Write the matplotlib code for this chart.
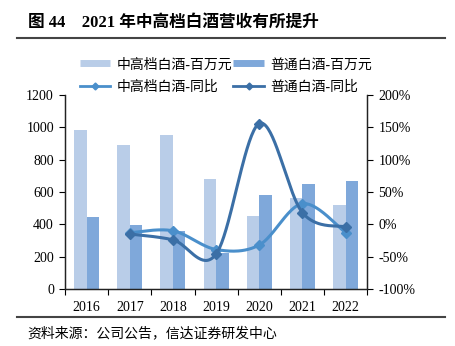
import numpy as np
import matplotlib.pyplot as plt
from matplotlib.lines import Line2D

plt.rcParams['font.family'] = ['Liberation Serif', 'Noto Sans CJK SC']
plt.rcParams['axes.unicode_minus'] = False

# ------------------------------------------------------------------
# Data
# ------------------------------------------------------------------
years = ['2016', '2017', '2018', '2019', '2020', '2021', '2022']
high_rev = [983, 891, 953, 680, 454, 565, 520]      # 中高档白酒-百万元
normal_rev = [447, 396, 360, 224, 581, 647, 668]    # 普通白酒-百万元
yoy_years = ['2017', '2018', '2019', '2020', '2021', '2022']
high_yoy = [-13, -10, -39, -32, 32, -13]            # 中高档白酒-同比 (%)
normal_yoy = [-15, -24, -46, 156, 18, -4]           # 普通白酒-同比 (%)

c_bar_light = '#B9CDE8'
c_bar_dark = '#7FA8DA'
c_line_light = '#4A8FCB'
c_line_dark = '#3B6FA6'


def smooth(x, y, n=40):
    # Excel-style smoothed line: cubic Bezier through the points
    x = np.asarray(x, float)
    y = np.asarray(y, float)
    px = np.concatenate([[x[0]], x, [x[-1]]])
    py = np.concatenate([[y[0]], y, [y[-1]]])
    xs, ys = [], []
    t = np.linspace(0, 1, n)[:, None]
    for i in range(1, len(px) - 2):
        p0 = np.array([px[i], py[i]])
        p3 = np.array([px[i + 1], py[i + 1]])
        p1 = p0 + (np.array([px[i + 1], py[i + 1]]) - np.array([px[i - 1], py[i - 1]])) / 6
        p2 = p3 - (np.array([px[i + 2], py[i + 2]]) - np.array([px[i], py[i]])) / 6
        b = ((1 - t) ** 3) * p0 + 3 * ((1 - t) ** 2) * t * p1 + 3 * (1 - t) * t ** 2 * p2 + t ** 3 * p3
        xs.append(b[:, 0])
        ys.append(b[:, 1])
    return np.concatenate(xs), np.concatenate(ys)


fig = plt.figure(figsize=(4.55, 3.46), dpi=100)
ax = fig.add_axes([0.143, 0.165, 0.664, 0.560])
ax2 = ax.twinx()

x = np.arange(len(years))
w = 0.29
ax.bar(x - w / 2, high_rev, w, color=c_bar_light, zorder=2)
ax.bar(x + w / 2, normal_rev, w, color=c_bar_dark, zorder=2)

xl = np.array([years.index(yr) for yr in yoy_years])
sx, sy = smooth(xl, high_yoy)
ax2.plot(sx, sy, color=c_line_light, lw=2.2, solid_capstyle='round')
ax2.plot(xl, high_yoy, ls='none', marker='D', ms=5.5, color=c_line_light)
sx, sy = smooth(xl, normal_yoy)
ax2.plot(sx, sy, color=c_line_dark, lw=2.2, solid_capstyle='round')
ax2.plot(xl, normal_yoy, ls='none', marker='D', ms=5.5, color=c_line_dark)

ax.set_xlim(-0.5, len(years) - 0.5)
ax.set_ylim(0, 1200)
ax.set_yticks(range(0, 1201, 200))
ax2.set_ylim(-100, 200)
ax2.set_yticks(range(-100, 201, 50))
ax2.set_yticklabels([f'{v}%' for v in range(-100, 201, 50)])

ax.set_xticks(x)
ax.set_xticklabels(years)
ax.set_xticks(np.arange(-0.5, len(years), 1), minor=True)
ax.tick_params(axis='x', which='major', length=0, pad=9, labelsize=10)
ax.tick_params(axis='x', which='minor', length=4, width=0.8, direction='out')
ax.tick_params(axis='y', length=4, width=0.8, labelsize=10, pad=4)
ax2.tick_params(axis='y', length=4, width=0.8, labelsize=10, pad=4)

for a in (ax, ax2):
    a.spines['top'].set_visible(False)
    for s in ('left', 'right', 'bottom'):
        a.spines[s].set_linewidth(0.9)
        a.spines[s].set_color('#222222')

# legend: bars on the first row, lines on the second
handles = [
    Line2D([], [], color=c_bar_light, lw=5, solid_capstyle='butt'),
    Line2D([], [], color=c_line_light, lw=2, marker='D', ms=3.5),
    Line2D([], [], color=c_bar_dark, lw=5, solid_capstyle='butt'),
    Line2D([], [], color=c_line_dark, lw=2, marker='D', ms=3.5),
]
labels = ['中高档白酒-百万元', '中高档白酒-同比', '普通白酒-百万元', '普通白酒-同比']
fig.legend(handles, labels, ncol=2, loc='upper left', bbox_to_anchor=(0.175, 0.832),
           frameon=False, fontsize=10, handlelength=2.2, handletextpad=0.45,
           columnspacing=0.1, labelspacing=0.68, borderpad=0, borderaxespad=0)

fig.text(0.062, 0.935, '图 44    2021 年中高档白酒营收有所提升', fontsize=12,
         fontweight='bold', va='center', ha='left')
fig.add_artist(Line2D([0.037, 0.978], [0.89, 0.89], color='#444444', lw=1.5))
fig.add_artist(Line2D([0.037, 0.978], [0.084, 0.084], color='#444444', lw=1.5))
fig.text(0.06, 0.036, '资料来源：公司公告，信达证券研发中心', fontsize=10,
         va='center', ha='left')

fig.savefig('out.png', dpi=100)
